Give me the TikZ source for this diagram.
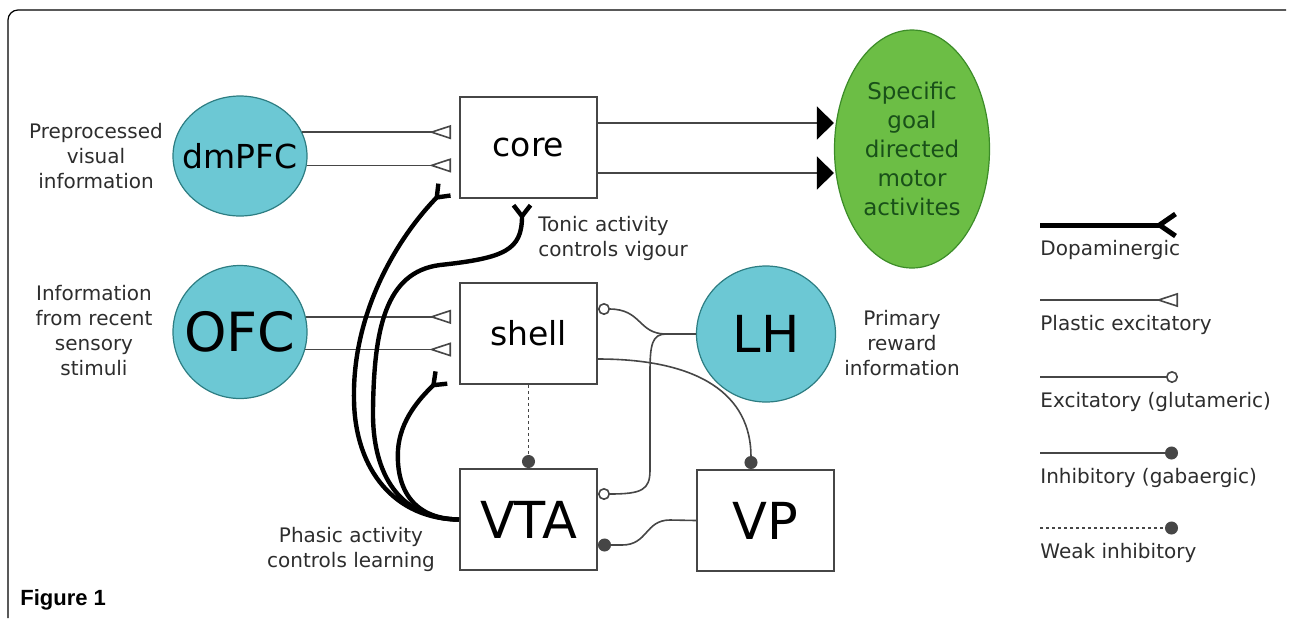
\documentclass[tikz,border=0pt]{standalone}
\usepackage{fontspec}
\setmainfont{DejaVu Sans}
\newfontfamily\figfont{Liberation Sans}
\usetikzlibrary{arrows.meta,shapes.geometric}
\definecolor{area}{RGB}{108,200,212}
\definecolor{areaedge}{RGB}{45,125,130}
\definecolor{goalfill}{RGB}{108,190,69}
\definecolor{goaledge}{RGB}{60,140,40}
\definecolor{goaltext}{RGB}{25,80,25}
\definecolor{wire}{RGB}{70,70,70}
\definecolor{label}{RGB}{45,45,45}

\begin{document}
\begin{tikzpicture}[x=0.5pt,y=-0.5pt,
    every node/.style={inner sep=0pt},
    small/.style={font=\fontsize{10}{12.5}\selectfont,align=center,text=label},
    mid/.style={font=\fontsize{16.5}{19}\selectfont},
    big/.style={font=\fontsize{25.5}{30}\selectfont},
    region/.style={ellipse,draw=areaedge,fill=area,line width=0.6pt},
    box/.style={rectangle,draw=wire,line width=1pt,minimum width=68.5pt,minimum height=50.5pt},
    thin/.style={draw=wire,line width=0.8pt},
    plastic/.style={thin,-{Triangle[open,reversed,length=11pt,width=7pt]}},
    excite/.style={thin,-{Circle[open,length=6pt]}},
    inhib/.style={thin,-{Circle[length=6.5pt]}},
    weak/.style={inhib,dash pattern=on 1.5pt off 1.5pt},
    drive/.style={thin,-{Triangle[length=8.5pt,width=16.5pt,black]}},
    dopa/.style={line width=2.2pt,-{Straight Barb[reversed,length=5.5pt,width=8.5pt]}},
    dopakey/.style={line width=2.5pt,-{Straight Barb[reversed,length=8pt,width=11pt]}}]
  \useasboundingbox (0,0) rectangle (1290,618);
  \draw[line width=0.6pt,rounded corners=5pt] (8,618) -- (8,10) -- (1286,10);
  \node[font=\figfont\bfseries\fontsize{11}{13}\selectfont,anchor=west] (figlbl) at (20,600) {Figure 1};

  \node[region,mid,minimum width=67pt,minimum height=60pt] (dmpfc) at (240,156) {\makebox[0pt]{dmPFC}};
  \node[region,font=\fontsize{27}{32}\selectfont,minimum width=67pt,minimum height=66.5pt] (ofc) at (240,332) {\makebox[0pt]{OFC}};
  \node[region,big,minimum width=69.5pt,minimum height=68pt] (lh) at (766,334) {\makebox[0pt]{LH}};
  \node[ellipse,draw=goaledge,fill=goalfill,line width=0.6pt,minimum width=77.5pt,minimum height=119pt,
        text=goaltext,align=center,font=\fontsize{11.5}{14.5}\selectfont] (goal) at (912,149)
        {Specific\\goal\\directed\\motor\\activites};
  \node[box,mid] (core) at (528.5,147.5) {core};
  \node[box,mid] (shell) at (528.5,333.5) {shell};
  \node[box,big] (vta) at (528.5,519.5) {VTA};
  \node[box,big] (vp) at (765.5,520.5) {VP};

  \node[small] (vislbl) at (96,156) {Preprocessed\\visual\\information};
  \node[small] (senslbl) at (94,331) {Information\\from recent\\sensory\\stimuli};
  \node[small,align=left,anchor=west] (toniclbl) at (538,238) {Tonic activity\\controls vigour};
  \node[small] (phasiclbl) at (351,549) {Phasic activity\\controls learning};
  \node[small] (rewlbl) at (902,343) {Primary\\reward\\information};

  \coordinate (corefork) at (446,188);
  \coordinate (tonicfork) at (522,203);
  \coordinate (shellfork) at (443,376);
  \coordinate (split) at (666,334);

  \begin{scope}
    \draw[plastic,shorten >=4pt] (dmpfc.21) -- (dmpfc.21 -| core.west);
    \draw[plastic,shorten >=4pt] (dmpfc.-8) -- (dmpfc.-8 -| core.west);
    \draw[plastic,shorten >=4pt] (ofc.13) -- (ofc.13 -| shell.west);
    \draw[plastic,shorten >=4pt] (ofc.-15) -- (ofc.-15 -| shell.west);
    \draw[drive] ([yshift=12.25pt]core.east) -- ([yshift=12.25pt]core.east -| goal.west);
    \draw[drive] ([yshift=-12.75pt]core.east) -- ([yshift=-12.75pt]core.east -| goal.west);
    \draw[dopa] (vta.west) .. controls (395,519) and (355,470) .. (354,400)
      .. controls (352,310) and (400,235) .. (corefork);
    \draw[dopa] (vta.west) .. controls (400,519) and (372,475) .. (373,410)
      .. controls (374,330) and (385,272) .. (440,265)
      .. controls (505,258) and (522,250) .. (tonicfork);
    \draw[dopa] (vta.west) .. controls (410,519) and (396,485) .. (398,450)
      .. controls (400,420) and (420,398) .. (shellfork);
    \draw[excite] (lh.west) -- (split) .. controls (638,334) and (642,309) .. ([yshift=12.25pt]shell.east);
    \draw[excite] (split) .. controls (652,334) and (650,345) .. (650,372) -- (650,470)
      .. controls (650,490) and (642,494) .. ([yshift=12.75pt]vta.east);
    \draw[inhib] ([yshift=-12.75pt]shell.east) .. controls (700,359) and (751,395) .. ([xshift=-7.25pt]vp.north);
    \draw[inhib] (vp.west) -- (670,520) .. controls (645,520) and (648,545) .. (622,545)
      -- ([yshift=-12.75pt]vta.east);
    \draw[weak] (shell.south) -- (vta.north);
  \end{scope}

  \foreach \y/\kind/\txt in {225/dopakey/Dopaminergic, 300/plastic/Plastic excitatory,
      377/excite/Excitatory (glutameric), 453/inhib/Inhibitory (gabaergic), 528/weak/Weak inhibitory}{
    \coordinate (from\y) at (1040,\y);
    \coordinate (to\y) at (1178,\y);
    \draw[\kind] (from\y) -- (to\y);
    \node[small,anchor=west] (key\y) at (1040,\y+25) {\txt};
  }
\end{tikzpicture}
\end{document}
